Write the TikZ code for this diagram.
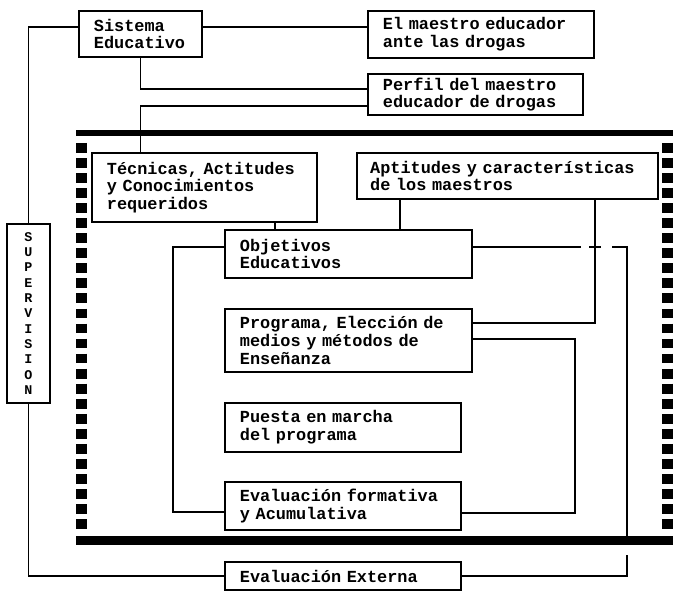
\documentclass[tikz,border=0pt]{standalone}
\usepackage{fontspec}
\setmonofont{Liberation Mono}
\usetikzlibrary{calc}

\begin{document}
\begin{tikzpicture}
        [
            x = 0.025cm, y = -0.025cm,
            caja/.style = {draw, line width = 1.1pt, align = left, inner xsep = 0.375cm, inner ysep = 0pt,
                font = \ttfamily\bfseries\fontsize{12}{12.6}\selectfont},
            linea/.style = {line width = 0.9pt},
            barra/.style = {line width = 5pt},
            puntos/.style = {line width = 7.8pt, dash pattern = on 7pt off 3.7pt}
        ]

        \useasboundingbox (0,0) rectangle (673,591);

        \node[caja, text width = 2.325cm, minimum height = 1.15cm] (sis) at (140.5,34) {Sistema\\Educativo};
        \node[caja, text width = 4.9cm, minimum height = 1.175cm] (maes) at (481,34.5) {El maestro educador\\ante las drogas};
        \node[caja, text width = 4.625cm, minimum height = 1.025cm] (perf) at (475.5,94.5) {Perfil del maestro\\educador de drogas};
        \node[caja, text width = 4.875cm, minimum height = 1.725cm] (tec) at (204.5,187.5) {Técnicas, Actitudes\\y Conocimientos\\requeridos};
        \node[caja, text width = 6.865cm, inner xsep = 0.33cm, minimum height = 1.15cm] (apt) at (507.5,176) {Aptitudes~y~características\\de los maestros};
        \node[caja, text width = 5.425cm, minimum height = 1.2cm] (obj) at (348.5,254) {Objetivos\\Educativos};
        \node[caja, text width = 5.425cm, minimum height = 1.575cm] (prog) at (348.5,340.5) {Programa, Elección de\\medios y métodos de\\Enseñanza};
        \node[caja, text width = 5.15cm, minimum height = 1.225cm] (pues) at (343,427.5) {Puesta en marcha\\del programa};
        \node[caja, text width = 5.15cm, minimum height = 1.2cm] (evf) at (343,506) {Evaluación formativa\\y Acumulativa};
        \node[caja, text width = 5.15cm, minimum height = 0.7cm] (eve) at (343,576) {Evaluación Externa};
        \node[caja, align = center, inner xsep = 0pt, minimum width = 1.075cm, minimum height = 4.475cm,
            font = \ttfamily\bfseries\fontsize{9.5}{10.9}\selectfont] (sup) at (28.5,313.5)
            {S\\U\\P\\E\\R\\V\\I\\S\\I\\O\\N};

        % conexiones
        \coordinate (sis-d) at ([yshift=0.175cm]sis.east);
        \coordinate (tec-b) at ([xshift=1.7625cm]tec.south);
        \coordinate (apt-b) at ([xshift=-2.6875cm]apt.south);
        \coordinate (apt-c) at ([xshift=2.1875cm]apt.south);
        \coordinate (vuelta) at (575,513);
        \coordinate (izq) at (173,512);
        \coordinate (der) at (627,537);
        \coordinate (ext) at (627,555);

        \draw[linea] ([yshift=0.175cm]sis.west) -| (sup.north);
        \draw[linea] (sup.south) |- (eve.west);
        \draw[linea] (sis-d) -- (sis-d -| maes.west);
        \draw[linea] (sis.south) |- ([yshift=0.1375cm]perf.west);
        \draw[linea] ([yshift=-0.2875cm]perf.west) -| (sis.south |- tec.north);
        \draw[linea] (tec-b) -- (tec-b |- obj.north);
        \draw[linea] (apt-b) -- (apt-b |- obj.north);
        \draw[linea] (apt-c) |- ([yshift=0.4375cm]prog.east);
        \draw[linea] ([yshift=0.0375cm]prog.east) -| (vuelta) -- (vuelta -| evf.east);
        \draw[linea] ([yshift=0.175cm]obj.west) -| (izq) -- (izq -| evf.west);
        \draw[linea] ([yshift=0.175cm]obj.east) -- ++(108,0);
        \draw[linea] (589,247) -- (601,247);
        \draw[linea] (612,247) -| (der);
        \draw[linea] (ext) |- (eve.east);

        % marco
        \draw[barra, line width = 4.7pt] (76,133) -- (673,133);
        \draw[barra, line width = 6.4pt] (76,540) -- (673,540);
        \draw[puntos] (81.5,143) -- (81.5,534);
        \draw[puntos] (667.5,143) -- (667.5,534);
\end{tikzpicture}
\end{document}
